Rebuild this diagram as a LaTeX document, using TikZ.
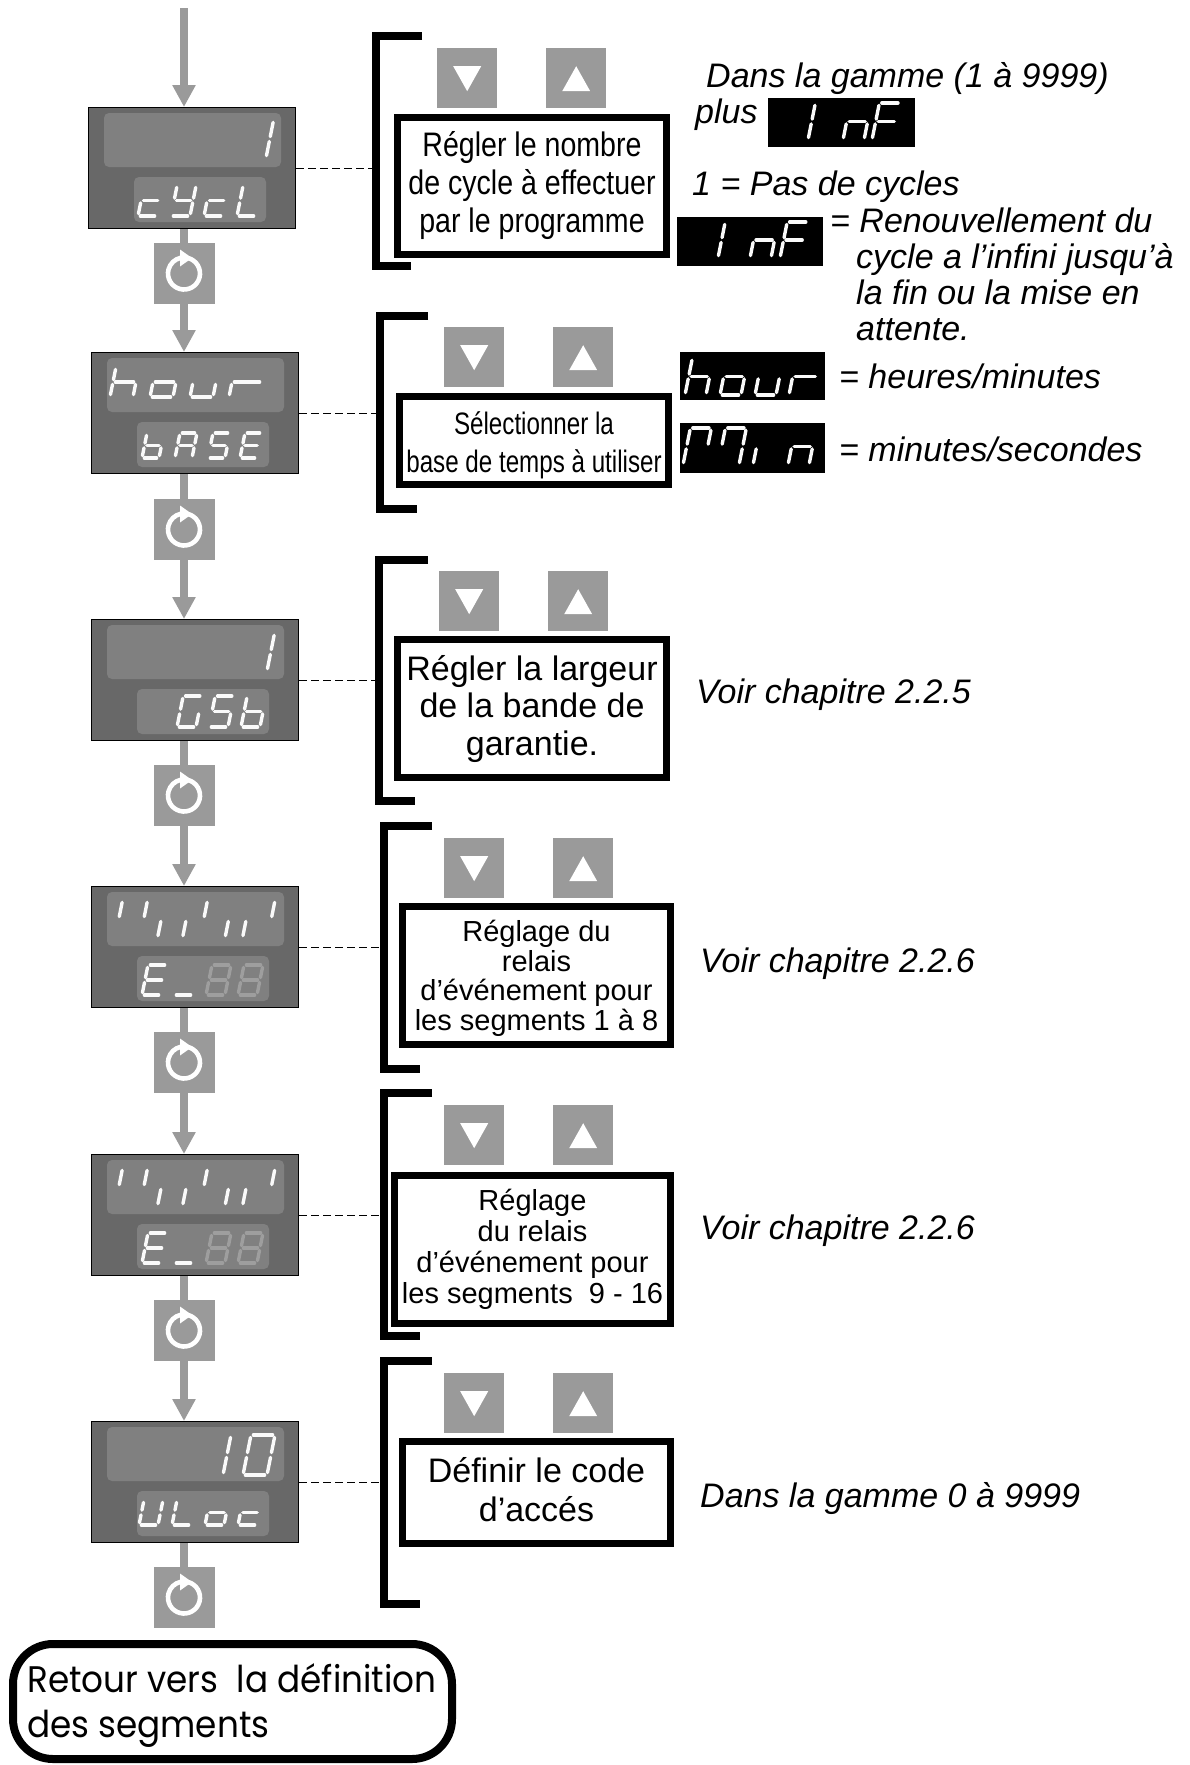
\documentclass[tikz,border=0pt]{standalone}
\usepackage{fontspec}
\setmainfont{Liberation Sans}
\newfontfamily\narrowA[FakeStretch=0.84]{Liberation Sans}
\newfontfamily\narrowB[FakeStretch=0.78]{Liberation Sans}
\newfontfamily\roundfont[FakeStretch=0.925]{Poppins}
\usetikzlibrary{arrows.meta}

\definecolor{dispbody}{RGB}{104,104,104}
\definecolor{disppanel}{RGB}{128,128,128}
\definecolor{keygray}{RGB}{154,154,154}
\definecolor{segdim}{RGB}{158,158,158}
\definecolor{segon}{RGB}{250,250,250}

% seven-segment glyphs, local frame with y pointing up
\def\segw{20}\def\segh{30}\def\sgap{2.4}
\def\SSa{\draw (\sgap,\segh) -- (\segw-\sgap,\segh);}
\def\SSb{\draw (\segw,\segh-\sgap) -- (\segw,\segh/2+\sgap);}
\def\SSc{\draw (\segw,\segh/2-\sgap) -- (\segw,\sgap);}
\def\SSd{\draw (\sgap,0) -- (\segw-\sgap,0);}
\def\SSe{\draw (0,\sgap) -- (0,\segh/2-\sgap);}
\def\SSf{\draw (0,\segh/2+\sgap) -- (0,\segh-\sgap);}
\def\SSg{\draw (\sgap,\segh/2) -- (\segw-\sgap,\segh/2);}
% \sdig[colour]{x}{baseline}{segments}
\newcommand\sdig[4][segon]{%
  \begin{scope}[shift={(#2,#3)},y=1pt,xslant=0.2,color=#1,line width=3.4pt,line cap=round]
    \foreach \s in {#4}{\csname SS\s\endcsname}
  \end{scope}}

% instrument front: body plus two display windows
\newcommand\disp[3]{%
  \node[display,anchor=north west] (#1) at (#2,#3) {};
  \fill[panel] ([shift={(16,6)}]#1.north west) rectangle ++(177,54);
  \fill[panel] ([shift={(46,70)}]#1.north west) rectangle ++(132,45);}

% scroll key with circular arrow
\newcommand\rotkey[3]{%
  \node[rotkey] (#1) at (#2,#3) {};
  \begin{scope}[shift={(#1.center)},y=1pt]
    \draw[white,line width=4.6pt] (75:16) arc[start angle=75,end angle=-258,radius=16];
    \fill[white] (-4,24) -- (8,15.5) -- (-4,7) -- cycle;
  \end{scope}}

% down / up key pair
\newcommand\keypair[3]{%
  \node[key,anchor=north west] (#1dn) at (#2,#3) {};
  \node[key,anchor=north west] (#1up) at ([xshift=109pt]#1dn.north west) {};
  \fill[white] ([shift={(-14,-12)}]#1dn.center) -- ++(28,0) -- ++(-14,25) -- cycle;
  \fill[white] ([shift={(-14,13)}]#1up.center) -- ++(28,0) -- ++(-14,-25) -- cycle;}

\begin{document}
\begin{tikzpicture}[x=1pt,y=-1pt,
  display/.style={draw=black,line width=1pt,fill=dispbody,minimum width=207pt,minimum height=121pt,inner sep=0pt},
  panel/.style={fill=disppanel,rounded corners=5pt},
  rotkey/.style={fill=keygray,minimum size=61pt,inner sep=0pt},
  key/.style={fill=keygray,minimum size=60pt,inner sep=0pt},
  flow/.style={draw=keygray,line width=8pt,-{Triangle[width=22pt,length=22pt]}},
  shaft/.style={draw=keygray,line width=8pt},
  bracket/.style={draw=black,line width=8pt,line join=miter},
  infobox/.style={draw=black,line width=7pt,fill=white,inner sep=0pt,align=center},
  boxtext/.style={inner sep=0pt,align=center},
  valbox/.style={fill=black,inner sep=0pt,anchor=north west},
  leader/.style={draw=black,line width=1pt,dash pattern=on 8pt off 4pt},
  note/.style={anchor=base west,inner sep=0pt,font=\fontsize{34}{38}\selectfont\itshape}]

\useasboundingbox[fill=white] (0,0) rectangle (1190,1765);

% ---------- left column: displays and scroll keys ----------
\disp{d1}{88}{107}
\disp{d2}{91}{352}
\disp{d3}{91}{619}
\disp{d4}{91}{886}
\disp{d5}{91}{1154}
\disp{d6}{91}{1421}

\rotkey{r1}{184}{273.5}
\rotkey{r2}{184}{529.5}
\rotkey{r3}{184}{795.5}
\rotkey{r4}{184}{1062.5}
\rotkey{r5}{184}{1330.5}
\rotkey{r6}{184}{1597.5}

\coordinate (start) at (184,8);
\draw[flow] (start) -- (start |- d1.north);
\draw[shaft] (r1.north |- d1.south) -- (r1.north);
\draw[flow] (r1.south) -- (r1.south |- d2.north);
\draw[shaft] (r2.north |- d2.south) -- (r2.north);
\draw[flow] (r2.south) -- (r2.south |- d3.north);
\draw[shaft] (r3.north |- d3.south) -- (r3.north);
\draw[flow] (r3.south) -- (r3.south |- d4.north);
\draw[shaft] (r4.north |- d4.south) -- (r4.north);
\draw[flow] (r4.south) -- (r4.south |- d5.north);
\draw[shaft] (r5.north |- d5.south) -- (r5.north);
\draw[flow] (r5.south) -- (r5.south |- d6.north);
\draw[shaft] (r6.north |- d6.south) -- (r6.north);

% display contents
\def\segw{24}\def\segh{38}
\sdig{242}{158}{b,c}
\def\segw{19}\def\segh{31}
\sdig{138}{216}{d,e,g}
\sdig{171}{216}{b,c,d,f,g}
\sdig{204}{216}{d,e,g}
\sdig{237}{216}{d,e,f}

\def\segw{23}\def\segh{30}
\sdig{110}{397}{c,e,f,g}
\sdig{150}{397}{c,d,e,g}
\sdig{190}{397}{c,d,e}
\def\segw{30}
\sdig{229}{397}{e,g}
\def\segw{17}\def\segh{25}
\sdig{142}{458}{c,d,e,f,g}
\sdig{175}{458}{a,b,c,e,f,g}
\sdig{208}{458}{a,c,d,f,g}
\sdig{240}{458}{a,d,e,f,g}

\def\segw{24}\def\segh{38}
\sdig{243}{671}{b,c}
\def\segw{19}\def\segh{31}
\sdig{177}{727}{a,c,d,e,f}
\sdig{209}{727}{a,c,d,f,g}
\sdig{241}{727}{c,d,e,f,g}

\foreach \dy in {0,268}{
  \def\segw{25}\def\segh{38}
  \sdig{115}{938+\dy}{f,b}
  \sdig{157.5}{938+\dy}{e,c}
  \sdig{200}{938+\dy}{f,c}
  \sdig{242.5}{938+\dy}{e,b}
  \def\segw{19}\def\segh{30}
  \sdig{142}{995+\dy}{a,d,e,f,g}
  \sdig{174}{995+\dy}{d}
  \sdig[segdim]{206}{995+\dy}{a,b,c,d,e,f,g}
  \sdig[segdim]{238}{995+\dy}{a,b,c,d,e,f,g}
}

\def\segw{24}\def\segh{40}
\sdig{199}{1475}{b,c}
\sdig{243}{1475}{a,b,c,d,e,f}
\def\segw{19}\def\segh{25}
\sdig{139}{1525}{b,c,d,e,f}
\sdig{172}{1525}{d,e,f}
\sdig{205}{1525}{c,d,e,g}
\sdig{238}{1525}{d,e,g}

% ---------- brackets and leaders ----------
\draw[bracket] (422,36) -- (376,36) -- (376,266) -- (411,266);
\draw[bracket] (428,316) -- (380,316) -- (380,509) -- (417,509);
\draw[bracket] (428,560) -- (379,560) -- (379,801) -- (415,801);
\draw[bracket] (432,826) -- (384,826) -- (384,1069) -- (420,1069);
\draw[bracket] (432,1093) -- (384,1093) -- (384,1336) -- (420,1336);
\draw[bracket] (432,1361) -- (384,1361) -- (384,1604) -- (420,1604);

\coordinate (k1) at (372,0);
\coordinate (k2) at (376,0);
\coordinate (k3) at (375,0);
\coordinate (k4) at (380,0);
\draw[leader] (d1.east) -- (d1.east -| k1);
\draw[leader] (d2.east) -- (d2.east -| k2);
\draw[leader] (d3.east) -- (d3.east -| k3);
\draw[leader] (d4.east) -- (d4.east -| k4);
\draw[leader] (d5.east) -- (d5.east -| k4);
\draw[leader] (d6.east) -- (d6.east -| k4);

% ---------- keys ----------
\keypair{k1}{437}{48}
\keypair{k2}{444}{327}
\keypair{k3}{439}{571}
\keypair{k4}{444}{838}
\keypair{k5}{444}{1105}
\keypair{k6}{444}{1373}

% ---------- instruction boxes ----------
\node[infobox,minimum width=269pt,minimum height=137pt,font=\narrowA\fontsize{34}{38}\selectfont] (t1) at (532,186)
  {Régler le nombre\\de cycle à effectuer\\par le programme};
\node[infobox,minimum width=269pt,minimum height=88pt] (t2) at (534,440.5) {};
\node[boxtext,font=\narrowB\fontsize{31}{38}\selectfont] (t2text) at (t2.center) [yshift=-5pt]
  {Sélectionner la\\base de temps à utiliser};
\node[infobox,minimum width=269pt,minimum height=138pt,font=\fontsize{34}{37.5}\selectfont] (t3) at (532,708.5)
  {Régler la largeur\\de la bande de\\garantie.};
\node[infobox,minimum width=268pt,minimum height=138pt] (t4) at (536.5,975.5) {};
\node[boxtext,font=\fontsize{29}{29.5}\selectfont] (t4text) at (t4.center) [yshift=-3pt]
  {Réglage du\\relais\\d’événement pour\\les segments 1 à 8};
\node[infobox,minimum width=276pt,minimum height=148pt,font=\fontsize{29}{31}\selectfont] (t5) at (532.5,1249.5)
  {Réglage\\du relais\\d’événement pour\\les segments~ 9 - 16};
\node[infobox,minimum width=268pt,minimum height=102pt] (t6) at (536.5,1492.5) {};
\node[boxtext,font=\fontsize{34}{39}\selectfont] (t6text) at (t6.center) [yshift=3pt]
  {Définir le code\\d’accés};

% ---------- value legends ----------
\node[valbox,minimum width=147pt,minimum height=49pt] (v1) at (768,98) {};
\node[valbox,minimum width=146pt,minimum height=49pt] (v2) at (677,217) {};
\node[valbox,minimum width=145pt,minimum height=48pt] (v3) at (680,352) {};
\node[valbox,minimum width=145pt,minimum height=50pt] (v4) at (680,423) {};

\def\segw{21}\def\segh{37}
\sdig{808}{140}{e,f}
\sdig{843}{140}{c,e,g}
\sdig{872}{140}{a,e,f,g}
\def\segh{36}
\sdig{718}{258}{e,f}
\sdig{750}{258}{c,e,g}
\sdig{780}{258}{a,e,f,g}
\def\segh{37}
\sdig{685}{395}{c,e,f,g}
\sdig{720}{395}{c,d,e,g}
\sdig{755}{395}{c,d,e}
\def\segw{25}
\sdig{789}{395}{e,g}
\def\segw{21}
\sdig{683}{465}{a,b,e,f}
\sdig{718}{465}{a,b,c,f}
\sdig{753}{465}{e}
\sdig{788}{465}{c,e,g}

\node[note] (n1) at (706,87) {Dans la gamme (1 à 9999)};
\node[note] (n2) at (695,123) {plus};
\node[note] (n3) at (692,195) {1 = Pas de cycles};
\node[note] (n4) at (830,232) {= Renouvellement du};
\node[note] (n5) at (856,268) {cycle a l’infini jusqu’à};
\node[note] (n6) at (856,304) {la fin ou la mise en};
\node[note] (n7) at (856,340) {attente.};
\node[note] (n8) at (839,388) {= heures/minutes};
\node[note] (n9) at (839,461) {= minutes/secondes};
\node[note] (n10) at (696,703) {Voir chapitre 2.2.5};
\node[note] (n11) at (700,972) {Voir chapitre 2.2.6};
\node[note] (n12) at (700,1239) {Voir chapitre 2.2.6};
\node[note] (n13) at (700,1507) {Dans la gamme 0 à 9999};

% ---------- return box ----------
\node[draw=black,line width=8pt,rounded corners=40pt,minimum width=439pt,minimum height=115pt,inner sep=0pt] (ret) at (232.5,1701.5) {};
\node[anchor=base west,inner sep=0pt,font=\roundfont\fontsize{37}{45}\selectfont] (ret1) at (27,1692) {Retour vers~ la définition};
\node[anchor=base west,inner sep=0pt,font=\roundfont\fontsize{37}{45}\selectfont] (ret2) at (27,1737) {des segments};

\end{tikzpicture}
\end{document}
